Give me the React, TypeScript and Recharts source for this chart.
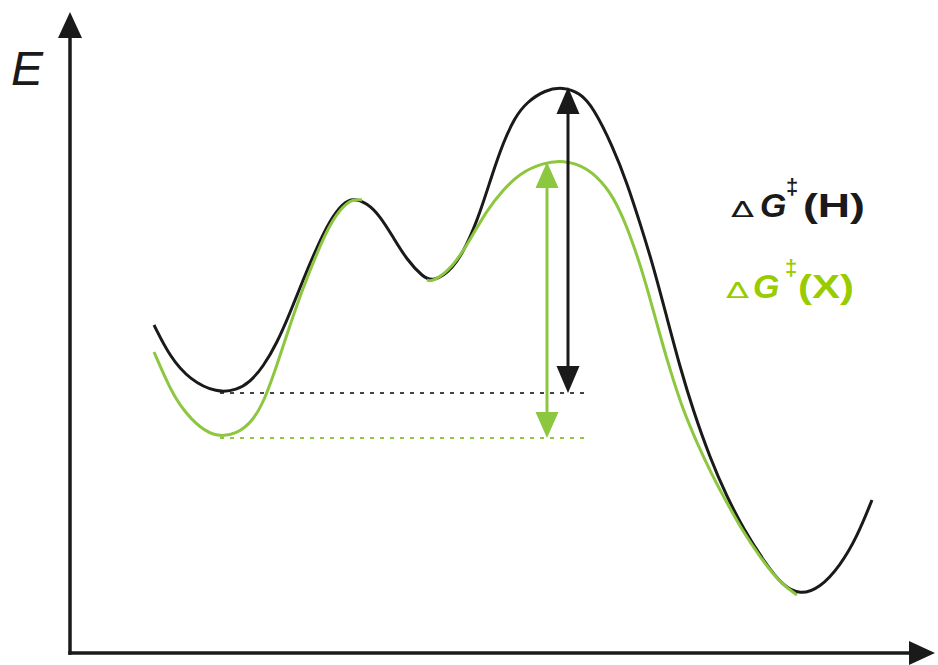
import React from 'react';
import { LineChart, Line, XAxis, YAxis, ReferenceLine } from 'recharts';

const W = 938;
const H = 665;

// Reaction coordinate (x) and energy (E) samples — H path (black)
const hX = [154, 170, 190, 217, 237, 250, 263, 277, 290, 303, 317, 330, 343, 353, 367, 380, 393, 407, 423, 433, 453, 467, 480, 492, 503, 515, 527, 545, 563, 580, 593, 613, 627, 640, 653, 667, 680, 693, 710, 727, 743, 765, 783, 800, 820, 840, 857, 872];
const hE = [340, 308, 285, 272, 275, 283, 298, 322, 352, 385, 418, 445, 462, 467, 462, 449, 428, 405, 388, 383, 396, 420, 452, 490, 522, 548, 563, 575, 578, 572, 558, 518, 482, 442, 400, 347, 298, 255, 207, 168, 137, 102, 79, 70, 77, 99, 128, 165];

// X path (green), two visible pieces
const xX1 = [154, 170, 183, 200, 217, 237, 253, 265, 277, 290, 303, 317, 330, 343, 353, 362];
const xE1 = [313, 276, 255, 237, 228, 231, 244, 266, 300, 340, 377, 412, 441, 459, 466, 465];
const gapX = 395;
const xX2 = [427, 433, 453, 470, 487, 503, 520, 543, 563, 587, 607, 620, 633, 645, 658, 670, 683, 697, 712, 727, 742, 760, 780, 797];
const xE2 = [385, 383, 398, 425, 455, 475, 492, 502, 505, 498, 478, 455, 422, 385, 337, 295, 255, 222, 190, 162, 135, 108, 82, 70];

// Barrier levels
const hMin = 272;
const hTop = 578;
const xMin = 227;
const xTop = 503;
const hArrowX = 568;
const xArrowX = 547;
const baseFrom = 220;
const baseTo = 590;

// Axes extents
const axisX0 = 70;
const axisE0 = 12;
const axisETop = 653;
const axisXEnd = 935;

const hData = hX.map((x, i) => ({ x, e: hE[i] }));
const xData = [
  ...xX1.map((x, i) => ({ x, e: xE1[i] })),
  { x: gapX, e: null },
  ...xX2.map((x, i) => ({ x, e: xE2[i] })),
];

const BLACK = '#1a1a1a';
const GREEN = '#8dc63f';
const GREEN_TEXT = '#99cc00';

const makeArrow = (color: string, width: number, head: number, halfW: number, startHead: boolean, endHead: boolean) =>
  (props: any) => {
    const { x1, y1, x2, y2 } = props;
    const dx = x2 - x1;
    const dy = y2 - y1;
    const len = Math.hypot(dx, dy) || 1;
    const ux = dx / len;
    const uy = dy / len;
    const px = -uy;
    const py = ux;
    const sx = startHead ? x1 + ux * (head - 2) : x1;
    const sy = startHead ? y1 + uy * (head - 2) : y1;
    const ex = endHead ? x2 - ux * (head - 2) : x2;
    const ey = endHead ? y2 - uy * (head - 2) : y2;
    const tri = (tx: number, ty: number, dx2: number, dy2: number) => {
      const bx = tx - dx2 * head;
      const by = ty - dy2 * head;
      return `${tx},${ty} ${bx + px * halfW},${by + py * halfW} ${bx - px * halfW},${by - py * halfW}`;
    };
    return (
      <g>
        <line x1={sx} y1={sy} x2={ex} y2={ey} stroke={color} strokeWidth={width} strokeLinecap="square" />
        {startHead && <polygon points={tri(x1, y1, -ux, -uy)} fill={color} />}
        {endHead && <polygon points={tri(x2, y2, ux, uy)} fill={color} />}
      </g>
    );
  };

const axisArrow = makeArrow(BLACK, 3.5, 26, 12, false, true);
const hArrow = makeArrow(BLACK, 3, 27, 11.5, true, true);
const xArrow = makeArrow(GREEN, 3, 26, 11.5, true, true);

const FONT = '"Liberation Sans", Arial, sans-serif';
const DELTA_FONT = '"DejaVu Sans", sans-serif';

export default function App() {
  return (
    <div style={{ position: 'absolute', left: 0, top: 0, width: W, height: H, background: '#fff' }}>
      <LineChart width={W} height={H} margin={{ top: 0, right: 0, bottom: 0, left: 0 }}>
        <XAxis type="number" dataKey="x" domain={[0, W]} allowDataOverflow hide />
        <YAxis type="number" domain={[0, H]} allowDataOverflow hide />
        <ReferenceLine segment={[{ x: axisX0, y: axisE0 }, { x: axisX0, y: axisETop }]} shape={axisArrow} ifOverflow="visible" />
        <ReferenceLine segment={[{ x: axisX0, y: axisE0 }, { x: axisXEnd, y: axisE0 }]} shape={axisArrow} ifOverflow="visible" />
        <ReferenceLine segment={[{ x: baseFrom, y: hMin }, { x: baseTo, y: hMin }]} stroke="#444" strokeWidth={2} strokeDasharray="4 6" ifOverflow="visible" />
        <ReferenceLine segment={[{ x: baseFrom, y: xMin }, { x: baseTo, y: xMin }]} stroke={GREEN} strokeWidth={2} strokeDasharray="4 6" ifOverflow="visible" />
        <Line data={hData} dataKey="e" type="basis" stroke={BLACK} strokeWidth={3} dot={false} activeDot={false} isAnimationActive={false} />
        <Line data={xData} dataKey="e" type="basis" stroke={GREEN} strokeWidth={3} dot={false} activeDot={false} connectNulls={false} isAnimationActive={false} />
        <ReferenceLine segment={[{ x: hArrowX, y: hMin }, { x: hArrowX, y: hTop }]} shape={hArrow} ifOverflow="visible" />
        <ReferenceLine segment={[{ x: xArrowX, y: xMin }, { x: xArrowX, y: xTop }]} shape={xArrow} ifOverflow="visible" />
      </LineChart>
      <svg width={W} height={H} style={{ position: 'absolute', left: 0, top: 0, pointerEvents: 'none' }}>
        <text x={11} y={85} fontFamily={FONT} fontSize={48} fontStyle="italic" fill={BLACK}>E</text>
        <g fill={BLACK}>
          <text transform="translate(731,217) scale(1.25,0.8)" x={0} y={0} fontFamily={DELTA_FONT} fontSize={27}>Δ</text>
          <text x={760} y={217} fontFamily={FONT} fontSize={34} fontWeight="bold" fontStyle="italic">G</text>
          <text x={786} y={194} fontFamily={FONT} fontSize={22} fontWeight="bold">‡</text>
          <text x={803} y={217} fontFamily={FONT} fontSize={34} fontWeight="bold" textLength={62} lengthAdjust="spacingAndGlyphs">(H)</text>
        </g>
        <g fill={GREEN_TEXT}>
          <text transform="translate(726,298) scale(1.25,0.8)" x={0} y={0} fontFamily={DELTA_FONT} fontSize={27}>Δ</text>
          <text x={753} y={298} fontFamily={FONT} fontSize={34} fontWeight="bold" fontStyle="italic">G</text>
          <text x={785} y={275} fontFamily={FONT} fontSize={22} fontWeight="bold">‡</text>
          <text x={798} y={298} fontFamily={FONT} fontSize={34} fontWeight="bold" textLength={56} lengthAdjust="spacingAndGlyphs">(X)</text>
        </g>
      </svg>
    </div>
  );
}
